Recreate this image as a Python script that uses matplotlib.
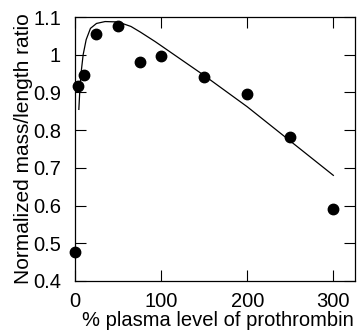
import matplotlib
matplotlib.use("Agg")
import matplotlib.pyplot as plt

# measured data points
x_pts = [0, 4, 10, 25, 50, 75, 100, 150, 200, 250, 300]
y_pts = [0.477, 0.918, 0.945, 1.055, 1.077, 0.980, 0.996, 0.940, 0.896, 0.783, 0.590]

# fitted curve
x_fit = [4.5, 5.5, 7, 9.5, 13, 18, 25, 35, 50, 65, 76, 93, 100, 150, 200, 250, 300]
y_fit = [0.855, 0.90, 0.95, 1.0, 1.04, 1.07, 1.083, 1.088, 1.087, 1.075, 1.06,
         1.035, 1.024, 0.945, 0.862, 0.771, 0.680]

x_ticks = [0, 100, 200, 300]
y_ticks = [0.4, 0.5, 0.6, 0.7, 0.8, 0.9, 1.0, 1.1]
y_tick_labels = ["0.4", "0.5", "0.6", "0.7", "0.8", "0.9", "1", "1.1"]

plt.rcParams['font.family'] = ['Liberation Sans', 'DejaVu Sans']

fig = plt.figure(figsize=(3.57, 3.34), dpi=100)
ax = fig.add_axes([0.210, 0.159, 0.784, 0.790])

ax.plot(x_fit, y_fit, color='black', linewidth=0.9)
ax.plot(x_pts, y_pts, 'o', color='black', markersize=7.5, clip_on=False, zorder=3)

ax.set_xlim(0, 325)
ax.set_ylim(0.4, 1.1)
ax.set_xticks(x_ticks)
ax.set_yticks(y_ticks)
ax.set_yticklabels(y_tick_labels)
ax.tick_params(direction='in', length=8, width=0.8, top=True, right=True,
               labelsize=14.5)
ax.tick_params(axis='x', pad=8)
ax.tick_params(axis='y', pad=10)
for s in ax.spines.values():
    s.set_linewidth(0.9)

ax.set_xlabel("% plasma level of prothrombin", fontsize=14.5)
ax.xaxis.set_label_coords(0.51, -0.115)
ax.set_ylabel("Normalized mass/length ratio", fontsize=15, labelpad=0)

fig.savefig("out.png", dpi=100)
